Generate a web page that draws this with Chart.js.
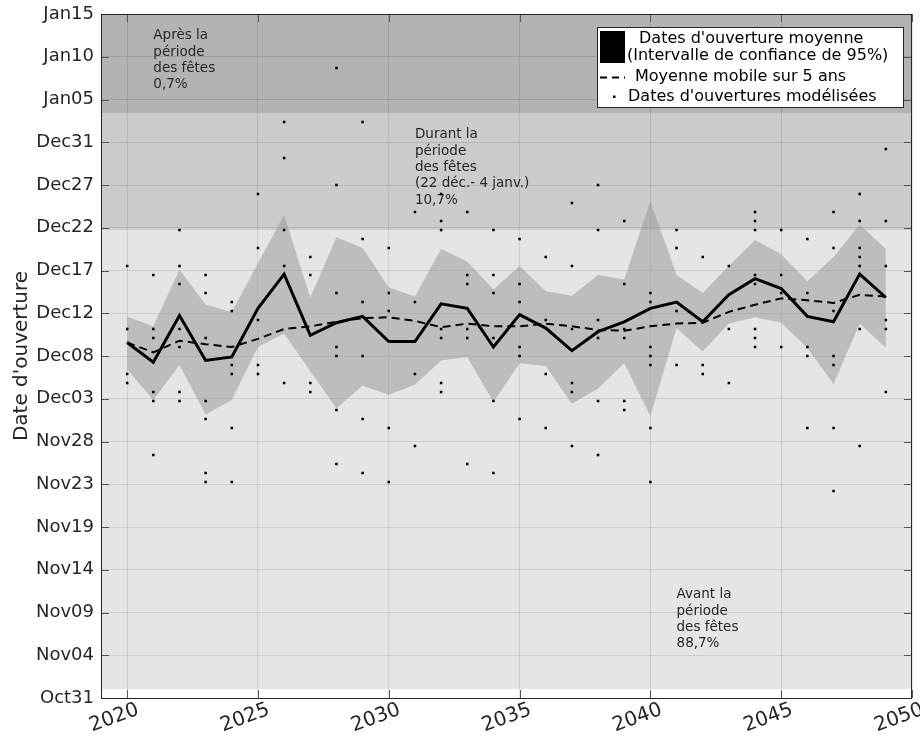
<!DOCTYPE html>
<html>
<head>
<meta charset="utf-8">
<script src="https://cdn.jsdelivr.net/npm/chart.js@4.4.1/dist/chart.umd.min.js"></script>
<style>
  html, body { margin: 0; padding: 0; background: #ffffff; }
  #wrap { width: 920px; height: 744px; }
</style>
</head>
<body>
<div id="wrap"><canvas id="chart" width="920" height="744"></canvas></div>
<script>
// Opening dates are stored as days after 31 October (0 = Oct 31, 76 = Jan 15).
const years = [2020, 2021, 2022, 2023, 2024, 2025, 2026, 2027, 2028, 2029,
               2030, 2031, 2032, 2033, 2034, 2035, 2036, 2037, 2038, 2039,
               2040, 2041, 2042, 2043, 2044, 2045, 2046, 2047, 2048, 2049];

// Annual mean opening date
const meanDay = [39.5, 37.3, 42.5, 37.5, 37.9, 43.3, 47.1, 40.3, 41.7, 42.4,
                 39.6, 39.6, 43.8, 43.3, 39.0, 42.6, 41.1, 38.6, 40.7, 41.8,
                 43.3, 44.0, 41.8, 44.8, 46.6, 45.5, 42.4, 41.8, 47.1, 44.5];

// 95% confidence interval of the annual mean
const ciHighDay = [42.4, 41.3, 47.6, 43.7, 42.9, 48.3, 53.7, 44.5, 51.2, 50.0,
                   45.6, 44.6, 49.9, 48.5, 45.4, 48.0, 45.2, 44.7, 47.0, 46.5,
                   55.2, 47.0, 45.0, 48.0, 50.9, 49.3, 46.3, 49.0, 52.6, 49.9];
const ciLowDay = [36.5, 33.1, 37.0, 31.5, 33.1, 39.0, 40.5, 36.3, 32.2, 34.7,
                  33.7, 34.8, 37.5, 37.9, 32.9, 37.2, 36.9, 32.7, 34.4, 37.2,
                  31.3, 41.1, 38.5, 41.6, 42.3, 41.7, 38.9, 34.9, 41.6, 38.9];

// 5-year moving average
const movingAvgDay = [39.5, 38.4, 39.7, 39.3, 39.0, 39.9, 41.0, 41.3, 41.8, 42.2,
                      42.3, 41.9, 41.2, 41.6, 41.3, 41.3, 41.6, 41.3, 40.9, 40.8,
                      41.3, 41.6, 41.7, 42.9, 43.7, 44.4, 44.2, 43.9, 44.8, 44.6];

// Individual modelled opening dates, one list per year
const modelledDays = [
  [48, 41, 36, 35],
  [47, 41, 40, 34, 33, 27],
  [52, 48, 46, 41, 39, 34, 33],
  [47, 45, 40, 33, 31, 25, 24],
  [44, 43, 37, 36, 30, 24],
  [56, 50, 42, 37, 36],
  [64, 60, 52, 48, 35],
  [49, 47, 35, 34],
  [70, 57, 45, 39, 38, 32, 26],
  [64, 51, 44, 38, 31, 25],
  [50, 45, 43, 30, 24],
  [54, 44, 36, 28],
  [56, 53, 52, 41, 40, 35, 34],
  [54, 47, 46, 41, 40, 26],
  [52, 47, 45, 40, 33, 25],
  [51, 46, 44, 39, 38, 31],
  [49, 42, 36, 30],
  [55, 48, 41, 35, 34, 28],
  [57, 52, 42, 40, 33, 27],
  [53, 46, 41, 40, 33, 32],
  [45, 44, 39, 38, 37, 30, 24],
  [52, 50, 43, 37],
  [49, 37, 36],
  [48, 41, 35],
  [54, 53, 52, 47, 46, 41, 40, 39],
  [52, 47, 45, 39],
  [51, 45, 39, 38, 30],
  [54, 50, 43, 38, 37, 30, 23],
  [56, 53, 50, 49, 48, 41, 28],
  [61, 53, 48, 42, 41, 34]
];

const yTickLabels = ['Oct31', 'Nov04', 'Nov09', 'Nov14', 'Nov19', 'Nov23', 'Nov28', 'Dec03',
                     'Dec08', 'Dec12', 'Dec17', 'Dec22', 'Dec27', 'Dec31', 'Jan05', 'Jan10', 'Jan15'];
const xTickYears = [2020, 2025, 2030, 2035, 2040, 2045, 2050];

// Holiday-period bands (days after Oct 31): before, during, after
const periodStartDay = [1, 52, 65];
const periodEndDay = [52, 65, 76];
const periodNotes = [
  ['Avant la', 'période', 'des fêtes', '88,7%'],
  ['Durant la', 'période', 'des fêtes', '(22 déc.- 4 janv.)', '10,7%'],
  ['Après la', 'période', 'des fêtes', '0,7%']
];

const legendLabels = [
  ["Dates d'ouverture moyenne", '(Intervalle de confiance de 95%)'],
  ['Moyenne mobile sur 5 ans'],
  ["Dates d'ouvertures modélisées"]
];

// ---- styling ----
const FONT = "'DejaVu Sans', 'Liberation Sans', sans-serif";
const INK = '#262626';
const periodColours = ['#e5e5e5', '#cccccc', '#b3b3b3'];
const noteAnchor = [{ x: 2041, y: 11.1 }, { x: 2031, y: 62.2 }, { x: 2021, y: 73.2 }];
const DAY_MIN = 0, DAY_MAX = 76;

const pts = arr => years.map((x, i) => ({ x, y: arr[i] }));
const dots = [];
years.forEach((x, i) => modelledDays[i].forEach(y => dots.push({ x, y })));

// axes keep a fixed box: no extra padding for overhanging labels
const noPad = s => { s.paddingTop = s.paddingBottom = s.paddingLeft = s.paddingRight = 0; };

const periodShading = {
  id: 'periodShading',
  beforeDraw(chart) {
    const { ctx, chartArea: a, scales: { y } } = chart;
    ctx.save();
    periodStartDay.forEach((from, i) => {
      const top = y.getPixelForValue(periodEndDay[i]);
      const bottom = y.getPixelForValue(from);
      ctx.fillStyle = periodColours[i];
      ctx.fillRect(a.left, top, a.right - a.left, bottom - top);
    });
    ctx.restore();
  }
};

const periodText = {
  id: 'periodText',
  beforeDatasetsDraw(chart) {
    const { ctx, scales: { x, y } } = chart;
    ctx.save();
    ctx.font = '13.5px ' + FONT;
    ctx.fillStyle = INK;
    ctx.textAlign = 'left';
    ctx.textBaseline = 'alphabetic';
    periodNotes.forEach((lines, i) => {
      const px = x.getPixelForValue(noteAnchor[i].x);
      const py = y.getPixelForValue(noteAnchor[i].y);
      lines.forEach((t, k) => ctx.fillText(t, px, py + k * 16.4));
    });
    ctx.restore();
  }
};

const frame = {
  id: 'frame',
  afterDraw(chart) {
    const { ctx, chartArea: a, scales: { x, y } } = chart;
    ctx.save();
    ctx.strokeStyle = '#555555';
    ctx.lineWidth = 1;
    const L = 8;
    ctx.beginPath();
    y.ticks.forEach(t => {
      const py = Math.round(y.getPixelForValue(t.value)) + 0.5;
      ctx.moveTo(a.left, py); ctx.lineTo(a.left + L, py);
      ctx.moveTo(a.right, py); ctx.lineTo(a.right - L, py);
    });
    x.ticks.forEach(t => {
      const px = Math.round(x.getPixelForValue(t.value)) + 0.5;
      ctx.moveTo(px, a.bottom); ctx.lineTo(px, a.bottom - L);
      ctx.moveTo(px, a.top); ctx.lineTo(px, a.top + L);
    });
    ctx.stroke();
    ctx.strokeStyle = INK;
    ctx.strokeRect(Math.round(a.left) + 0.5, Math.round(a.top) + 0.5,
                   Math.round(a.right - a.left) - 1, Math.round(a.bottom - a.top));
    ctx.restore();
  }
};

const boxLegend = {
  id: 'boxLegend',
  afterDraw(chart) {
    const { ctx, chartArea: a } = chart;
    const bx = a.right - 315, by = a.top + 13, bw = 307, bh = 81;
    ctx.save();
    ctx.fillStyle = '#ffffff';
    ctx.fillRect(bx, by, bw, bh);
    ctx.strokeStyle = INK;
    ctx.lineWidth = 1;
    ctx.strokeRect(bx + 0.5, by + 0.5, bw - 1, bh - 1);
    // swatches
    ctx.fillStyle = '#000000';
    ctx.fillRect(bx + 3, by + 4, 25, 32);
    ctx.strokeStyle = '#000000';
    ctx.lineWidth = 2;
    ctx.setLineDash([7, 5]);
    ctx.beginPath();
    ctx.moveTo(bx + 3, by + 50.5); ctx.lineTo(bx + 28, by + 50.5);
    ctx.stroke();
    ctx.setLineDash([]);
    ctx.fillRect(bx + 16, by + 68.5, 2.5, 2.5);
    // labels
    ctx.font = '16px ' + FONT;
    ctx.fillStyle = '#000000';
    ctx.textBaseline = 'middle';
    ctx.textAlign = 'left';
    ctx.fillText(legendLabels[0][0], bx + 42, by + 12);
    ctx.fillText(legendLabels[0][1], bx + 30, by + 29);
    ctx.fillText(legendLabels[1][0], bx + 38, by + 50);
    ctx.fillText(legendLabels[2][0], bx + 31, by + 70);
    ctx.restore();
  }
};

new Chart(document.getElementById('chart'), {
  type: 'line',
  data: {
    datasets: [
      { data: pts(ciHighDay), fill: '+1', backgroundColor: 'rgba(150,150,150,0.5)',
        borderWidth: 0, pointRadius: 0, order: 5 },
      { data: pts(ciLowDay), fill: false, borderWidth: 0, pointRadius: 0, order: 6 },
      { data: pts(movingAvgDay), borderColor: '#000000', borderWidth: 2, borderDash: [8, 5],
        pointRadius: 0, fill: false, order: 3 },
      { data: pts(meanDay), borderColor: '#000000', borderWidth: 3, pointRadius: 0,
        fill: false, order: 2 },
      { type: 'scatter', data: dots, pointStyle: 'rect', pointRadius: 1.8,
        backgroundColor: '#000000', borderWidth: 0, showLine: false, order: 1 }
    ]
  },
  options: {
    responsive: false,
    animation: false,
    devicePixelRatio: 1,
    layout: { padding: { top: 14, right: 8, left: 0, bottom: 0 }, autoPadding: false },
    elements: { line: { tension: 0 } },
    plugins: { legend: { display: false }, tooltip: { enabled: false } },
    scales: {
      x: {
        type: 'linear', min: 2019, max: 2050,
        afterBuildTicks: s => { s.ticks = xTickYears.map(v => ({ value: v })); },
        afterFit: s => { s.height = 46; noPad(s); },
        grid: { color: 'rgba(0,0,0,0.1)', drawTicks: false },
        border: { display: false },
        ticks: { minRotation: 20, maxRotation: 20, padding: 0, labelOffset: 11, color: INK,
                 font: { family: FONT, size: 20 }, callback: v => String(v) }
      },
      y: {
        min: DAY_MIN, max: DAY_MAX,
        afterBuildTicks: s => {
          s.ticks = yTickLabels.map((_, i) => ({ value: DAY_MIN + i * (DAY_MAX - DAY_MIN) / (yTickLabels.length - 1) }));
        },
        afterFit: s => { s.width = 101; noPad(s); },
        grid: { color: 'rgba(0,0,0,0.1)', drawTicks: false },
        border: { display: false },
        ticks: { padding: 7, color: INK, font: { family: FONT, size: 18 },
                 callback: (v, i) => yTickLabels[i] },
        title: { display: true, text: "Date d'ouverture", color: INK,
                 font: { family: FONT, size: 20 }, padding: { top: 10, bottom: 0 } }
      }
    }
  },
  plugins: [periodShading, periodText, frame, boxLegend]
});
</script>
</body>
</html>
